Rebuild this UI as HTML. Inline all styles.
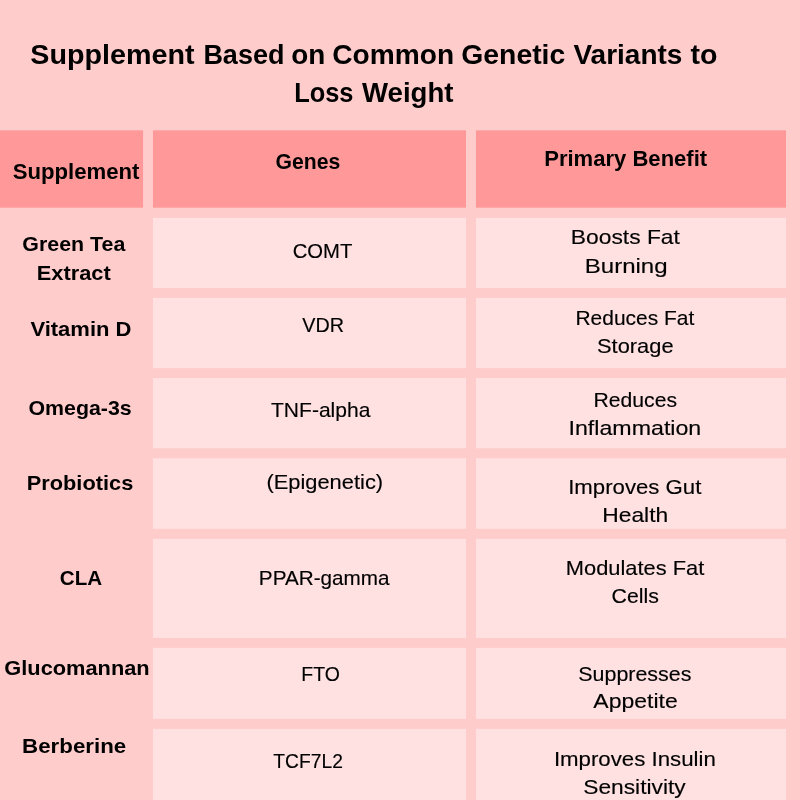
<!DOCTYPE html>
<html lang="en">
<head>
<meta charset="utf-8">
<title>Supplement Based on Common Genetic Variants to Loss Weight</title>
<style>
html,body{margin:0;padding:0;}
body{width:800px;height:800px;overflow:hidden;background:#ffcccc;position:relative;font-family:"Liberation Sans",sans-serif;color:#000;}
.r{position:absolute;}
.h{background:#ff9999;}
.c{background:#ffe1e1;}
.t{position:absolute;white-space:nowrap;line-height:1;margin:0;padding:0;font-weight:400;transform-origin:0 0;-webkit-font-smoothing:antialiased;}
.n{-webkit-text-stroke:0.15px #000;}
.b{font-weight:700;}
h1{margin:0;padding:0;font-size:inherit;font-weight:inherit;}
#txt{position:absolute;left:0;top:0;width:800px;height:800px;will-change:transform;}
</style>
</head>
<body>
<svg class="r" style="left:0;top:0" width="800" height="800" viewBox="0 0 800 800">
<rect x="0" y="130.35" width="143.1" height="77.35" fill="#ff9999"/>
<rect x="152.95" y="130.35" width="313.05" height="77.35" fill="#ff9999"/>
<rect x="475.95" y="130.35" width="310.05" height="77.35" fill="#ff9999"/>
<rect x="152.95" y="217.95" width="313.05" height="70.05" fill="#ffe1e1"/>
<rect x="475.95" y="217.95" width="310.05" height="70.05" fill="#ffe1e1"/>
<rect x="152.95" y="297.95" width="313.05" height="70.15" fill="#ffe1e1"/>
<rect x="475.95" y="297.95" width="310.05" height="70.15" fill="#ffe1e1"/>
<rect x="152.95" y="378.1" width="313.05" height="70.2" fill="#ffe1e1"/>
<rect x="475.95" y="378.1" width="310.05" height="70.2" fill="#ffe1e1"/>
<rect x="152.95" y="458.3" width="313.05" height="70.5" fill="#ffe1e1"/>
<rect x="475.95" y="458.3" width="310.05" height="70.5" fill="#ffe1e1"/>
<rect x="152.95" y="538.9" width="313.05" height="99" fill="#ffe1e1"/>
<rect x="475.95" y="538.9" width="310.05" height="99" fill="#ffe1e1"/>
<rect x="152.95" y="647.9" width="313.05" height="71" fill="#ffe1e1"/>
<rect x="475.95" y="647.9" width="310.05" height="71" fill="#ffe1e1"/>
<rect x="152.95" y="728.9" width="313.05" height="71.1" fill="#ffe1e1"/>
<rect x="475.95" y="728.9" width="310.05" height="71.1" fill="#ffe1e1"/>
</svg>
<div id="txt">
<h1>
<span id="t0" class="t b" style="left:30px;top:41px;font-size:27.4px;transform:translateX(0.29px) scaleX(1.0475)">Supplement</span>
<span id="t1" class="t b" style="left:203px;top:41px;font-size:27.4px;transform:translateX(0.38px) scaleX(0.9853)">Based</span>
<span id="t2" class="t b" style="left:291px;top:41px;font-size:27.4px;transform:translateX(0.28px) scaleX(1.0181)">on</span>
<span id="t3" class="t b" style="left:332px;top:41px;font-size:27.4px;transform:translateX(0.27px) scaleX(1.0267)">Common</span>
<span id="t4" class="t b" style="left:461px;top:41px;font-size:27.4px;transform:translateX(0.27px) scaleX(1.0345)">Genetic</span>
<span id="t5" class="t b" style="left:573px;top:41px;font-size:27.4px;transform:translateX(0.41px) scaleX(1.0228)">Variants</span>
<span id="t6" class="t b" style="left:690px;top:41px;font-size:27.4px;transform:translateX(0.45px) scaleX(1.0434)">to</span>
<span id="t7" class="t b" style="left:294px;top:79px;font-size:27.4px;transform:translateX(0.13px) scaleX(0.9288)">Loss</span>
<span id="t8" class="t b" style="left:362px;top:79px;font-size:27.4px;transform:translateX(0.00px) scaleX(1.0082)">Weight</span>
</h1>
<div id="t9" class="t b" style="left:12px;top:161px;font-size:22.4px;transform:translateX(0.64px) scaleX(0.9897)">Supplement</div>
<div id="t10" class="t b" style="left:275px;top:151px;font-size:22.4px;transform:translateX(0.56px) scaleX(0.9467)">Genes</div>
<div id="t11" class="t b" style="left:544px;top:148px;font-size:22.4px;transform:translateX(0.19px) scaleX(0.9848)">Primary Benefit</div>
<div id="t12" class="t b" style="left:22px;top:234px;font-size:20.6px;transform:translateX(0.34px) scaleX(1.0379)">Green Tea</div>
<div id="t13" class="t b" style="left:36px;top:263px;font-size:20.6px;transform:translateX(0.78px) scaleX(1.0592)">Extract</div>
<div id="t14" class="t b" style="left:30px;top:319px;font-size:20.6px;transform:translateX(0.38px) scaleX(1.0681)">Vitamin D</div>
<div id="t15" class="t b" style="left:28px;top:398px;font-size:20.6px;transform:translateX(0.46px) scaleX(1.0370)">Omega-3s</div>
<div id="t16" class="t b" style="left:26px;top:473px;font-size:20.6px;transform:translateX(0.78px) scaleX(1.0572)">Probiotics</div>
<div id="t17" class="t b" style="left:59px;top:568px;font-size:20.6px;transform:translateX(0.79px) scaleX(0.9996)">CLA</div>
<div id="t18" class="t b" style="left:4px;top:658px;font-size:20.6px;transform:translateX(0.32px) scaleX(1.0587)">Glucomannan</div>
<div id="t19" class="t b" style="left:22px;top:736px;font-size:20.6px;transform:translateX(0.09px) scaleX(1.0834)">Berberine</div>
<div id="t20" class="t n" style="left:292px;top:241px;font-size:20.6px;transform:translateX(0.67px) scaleX(0.9834)">COMT</div>
<div id="t21" class="t n" style="left:302px;top:315px;font-size:20.6px;transform:translateX(0.29px) scaleX(0.9599)">VDR</div>
<div id="t22" class="t n" style="left:271px;top:400px;font-size:20.6px;transform:translateX(0.00px) scaleX(1.0217)">TNF-alpha</div>
<div id="t23" class="t n" style="left:266px;top:472px;font-size:20.6px;transform:translateX(0.40px) scaleX(1.0620)">(Epigenetic)</div>
<div id="t24" class="t n" style="left:258px;top:568px;font-size:20.6px;transform:translateX(0.87px) scaleX(1.0041)">PPAR-gamma</div>
<div id="t25" class="t n" style="left:301px;top:664px;font-size:20.6px;transform:translateX(0.25px) scaleX(0.9464)">FTO</div>
<div id="t26" class="t n" style="left:273px;top:751px;font-size:20.6px;transform:translateX(0.34px) scaleX(0.9342)">TCF7L2</div>
<div id="t27" class="t n" style="left:570px;top:227px;font-size:20.6px;transform:translateX(0.81px) scaleX(1.1077)">Boosts Fat</div>
<div id="t28" class="t n" style="left:584px;top:256px;font-size:20.6px;transform:translateX(0.71px) scaleX(1.1681)">Burning</div>
<div id="t29" class="t n" style="left:575px;top:308px;font-size:20.6px;transform:translateX(0.47px) scaleX(1.0176)">Reduces Fat</div>
<div id="t30" class="t n" style="left:597px;top:336px;font-size:20.6px;transform:translateX(0.06px) scaleX(1.0602)">Storage</div>
<div id="t31" class="t n" style="left:593px;top:390px;font-size:20.6px;transform:translateX(0.45px) scaleX(1.0288)">Reduces</div>
<div id="t32" class="t n" style="left:568px;top:418px;font-size:20.6px;transform:translateX(0.53px) scaleX(1.1259)">Inflammation</div>
<div id="t33" class="t n" style="left:568px;top:477px;font-size:20.6px;transform:translateX(0.20px) scaleX(1.0772)">Improves Gut</div>
<div id="t34" class="t n" style="left:602px;top:505px;font-size:20.6px;transform:translateX(0.27px) scaleX(1.1078)">Health</div>
<div id="t35" class="t n" style="left:565px;top:558px;font-size:20.6px;transform:translateX(0.82px) scaleX(1.0612)">Modulates Fat</div>
<div id="t36" class="t n" style="left:611px;top:586px;font-size:20.6px;transform:translateX(0.61px) scaleX(1.0338)">Cells</div>
<div id="t37" class="t n" style="left:578px;top:664px;font-size:20.6px;transform:translateX(0.28px) scaleX(1.0400)">Suppresses</div>
<div id="t38" class="t n" style="left:593px;top:691px;font-size:20.6px;transform:translateX(0.29px) scaleX(1.1168)">Appetite</div>
<div id="t39" class="t n" style="left:553px;top:749px;font-size:20.6px;transform:translateX(0.88px) scaleX(1.0802)">Improves Insulin</div>
<div id="t40" class="t n" style="left:583px;top:777px;font-size:20.6px;transform:translateX(0.20px) scaleX(1.1051)">Sensitivity</div>
</div>
</body>
</html>
